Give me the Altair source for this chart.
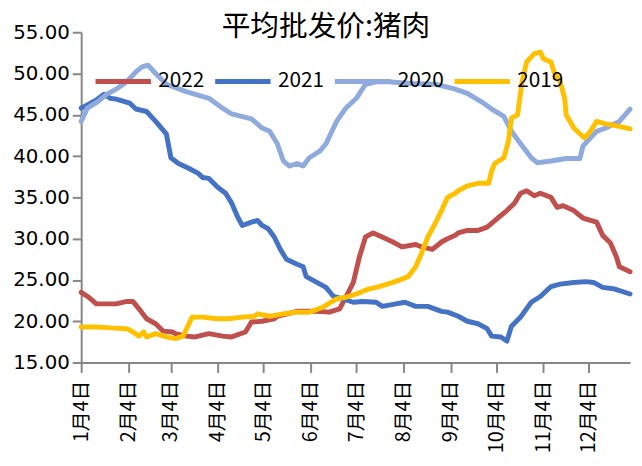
import altair as alt
import pandas as pd

# ---- data (day of year, 0 = Jan 1) ----
day_2022 = [3, 8, 13, 20, 26, 33, 37, 41, 46, 52, 57, 63, 65, 72, 78, 87, 96, 102, 111, 115, 122, 130, 132, 145, 158, 166, 173, 177, 182, 186, 190, 195, 201, 208, 214, 223, 227, 234, 240, 243, 249, 251, 257, 264, 270, 277, 283, 288, 292, 296, 301, 305, 312, 316, 320, 327, 333, 342, 346, 351, 355, 357, 364]
val_2022 = [23.5, 22.9, 22.1, 22.1, 22.1, 22.4, 22.4, 21.5, 20.3, 19.7, 18.8, 18.7, 18.5, 18.2, 18.1, 18.5, 18.2, 18.1, 18.7, 19.9, 20.0, 20.3, 20.6, 21.2, 21.2, 21.1, 21.5, 22.9, 24.7, 27.8, 30.2, 30.7, 30.2, 29.6, 29.0, 29.3, 29.0, 28.7, 29.6, 29.9, 30.4, 30.7, 31.0, 31.0, 31.4, 32.5, 33.4, 34.3, 35.5, 35.8, 35.2, 35.5, 35.0, 33.8, 34.0, 33.4, 32.5, 32.0, 30.4, 29.5, 27.8, 26.6, 26.0]

day_2021 = [3, 8, 13, 18, 22, 26, 35, 39, 46, 52, 59, 62, 67, 74, 80, 83, 87, 93, 98, 102, 106, 109, 115, 119, 122, 126, 130, 134, 138, 145, 149, 151, 158, 164, 169, 175, 182, 188, 197, 201, 210, 216, 223, 231, 240, 244, 251, 257, 264, 270, 273, 279, 283, 286, 292, 299, 305, 312, 318, 327, 335, 340, 346, 354, 364]
val_2021 = [45.8, 46.3, 46.8, 47.5, 47.0, 46.9, 46.4, 45.7, 45.4, 44.2, 42.7, 39.8, 39.1, 38.5, 37.9, 37.4, 37.3, 36.2, 35.5, 34.3, 32.6, 31.6, 32.0, 32.2, 31.6, 31.2, 30.2, 28.7, 27.5, 26.9, 26.6, 25.4, 24.7, 24.1, 23.0, 22.7, 22.3, 22.4, 22.3, 21.8, 22.1, 22.3, 21.8, 21.8, 21.2, 21.1, 20.6, 20.0, 19.7, 19.1, 18.2, 18.1, 17.6, 19.4, 20.5, 22.3, 23.0, 24.2, 24.5, 24.7, 24.8, 24.7, 24.1, 23.9, 23.3]

day_2020 = [3, 7, 14, 20, 26, 33, 39, 43, 47, 52, 59, 72, 87, 96, 102, 115, 122, 127, 132, 136, 140, 145, 149, 153, 160, 164, 171, 177, 184, 190, 197, 205, 220, 236, 249, 257, 266, 273, 281, 286, 292, 299, 303, 312, 322, 331, 333, 342, 348, 357, 364]
val_2020 = [44.2, 45.8, 46.6, 47.5, 48.1, 49.0, 50.2, 50.8, 51.0, 50.0, 48.7, 47.8, 47.0, 45.8, 45.1, 44.5, 43.4, 43.0, 41.5, 39.4, 38.8, 39.1, 38.8, 39.8, 40.6, 41.5, 44.2, 45.8, 47.0, 48.7, 49.0, 49.0, 48.8, 48.7, 48.1, 47.6, 46.6, 45.7, 44.8, 43.0, 41.5, 39.8, 39.2, 39.4, 39.7, 39.7, 41.2, 43.0, 43.4, 44.2, 45.7]

day_2019 = [3, 13, 22, 33, 37, 41, 44, 46, 52, 59, 65, 70, 76, 83, 92, 100, 109, 117, 119, 127, 136, 145, 153, 162, 171, 177, 184, 192, 199, 208, 214, 218, 223, 227, 231, 236, 240, 244, 249, 251, 257, 264, 271, 273, 275, 281, 284, 286, 290, 293, 296, 301, 305, 307, 312, 314, 318, 321, 322, 327, 331, 334, 338, 342, 348, 357, 364]
val_2019 = [19.3, 19.3, 19.2, 19.1, 18.7, 18.2, 18.7, 18.1, 18.5, 18.1, 17.9, 18.2, 20.5, 20.5, 20.3, 20.3, 20.5, 20.6, 20.9, 20.6, 20.9, 21.1, 21.1, 21.7, 22.7, 22.9, 23.3, 23.9, 24.2, 24.7, 25.1, 25.4, 26.6, 28.3, 30.2, 31.9, 33.4, 35.0, 35.5, 35.8, 36.4, 36.7, 36.7, 38.2, 39.1, 39.8, 41.8, 44.6, 45.0, 49.0, 51.4, 52.4, 52.6, 51.8, 51.4, 50.2, 49.0, 47.0, 45.0, 43.4, 42.7, 42.2, 43.0, 44.2, 43.9, 43.6, 43.3]

series_names = ["2022", "2021", "2020", "2019"]
series_colors = ["#C0504D", "#4472C4", "#8FAADC", "#FFC000"]

tick_days = [3, 34, 62, 93, 123, 154, 184, 215, 246, 276, 307, 337]
tick_labels = ["1月4日", "2月4日", "3月4日", "4月4日", "5月4日", "6月4日",
               "7月4日", "8月4日", "9月4日", "10月4日", "11月4日", "12月4日"]
y_ticks = [15, 20, 25, 30, 35, 40, 45, 50, 55]

rows = []
for name, days, vals in [("2022", day_2022, val_2022), ("2021", day_2021, val_2021),
                         ("2020", day_2020, val_2020), ("2019", day_2019, val_2019)]:
    for d, v in zip(days, vals):
        rows.append({"series": name, "day": d, "value": v})
df = pd.DataFrame(rows)

label_expr = ("[" + ",".join("'" + t + "'" for t in tick_labels) + "][indexof(["
              + ",".join(str(d) for d in tick_days) + "], datum.value)]")

chart = alt.Chart(df).mark_line(strokeWidth=5, strokeJoin="round", strokeCap="round").encode(
    x=alt.X("day:Q",
            scale=alt.Scale(domain=[3, 364], nice=False, zero=False),
            axis=alt.Axis(values=tick_days, labelExpr=label_expr, title=None,
                          labelAngle=270, labelAlign="right", labelBaseline="middle",
                          labelFont="Noto Sans CJK SC", labelFontSize=20, labelColor="#000000",
                          labelPadding=8, tickSize=10, grid=False, labelOverlap=False)),
    y=alt.Y("value:Q",
            scale=alt.Scale(domain=[15, 55], nice=False, zero=False),
            axis=alt.Axis(values=y_ticks, format=".2f", title=None,
                          labelFont="DejaVu Sans", labelFontSize=20, labelColor="#000000",
                          labelPadding=3, tickSize=9, grid=False)),
    color=alt.Color("series:N",
                    scale=alt.Scale(domain=series_names, range=series_colors),
                    sort=series_names,
                    legend=alt.Legend(orient="none", legendX=12, legendY=19, direction="horizontal",
                                      title=None, symbolType="stroke", symbolSize=3136,
                                      symbolStrokeWidth=5, labelFont="Noto Sans CJK SC",
                                      labelFontSize=21, labelColor="#000000", labelOffset=5,
                                      columnPadding=0, padding=0)),
).properties(
    width=555,
    height=334,
    title=alt.TitleParams(text="平均批发价:猪肉", font="Noto Sans CJK SC", fontSize=29,
                          fontWeight="normal", color="#000000", anchor="middle",
                          frame="group", dx=-30, dy=24),
    autosize=alt.AutoSizeParams(type="none"),
    padding={"left": 74, "top": 22, "right": 4, "bottom": 90},
).configure_view(stroke=None).configure_axis(
    domainColor="#868686", tickColor="#868686", domainWidth=2, tickWidth=2
)

chart.save("out.html", embed_options={"renderer": "svg", "actions": False})
